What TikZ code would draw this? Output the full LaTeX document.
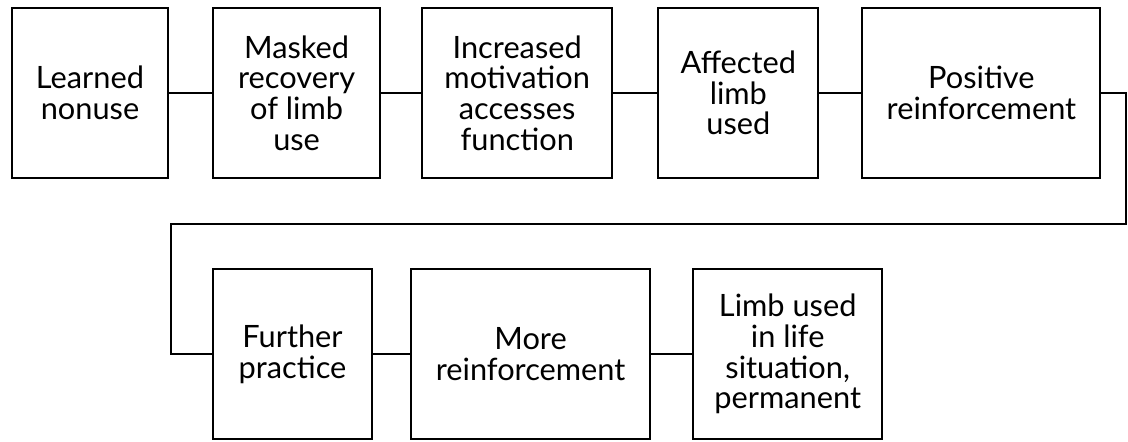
\documentclass[tikz,border=0pt]{standalone}
\usepackage{fontspec}
\setmainfont{Lato}
\usetikzlibrary{positioning}

\begin{document}
\begin{tikzpicture}[font=\fontsize{17.5}{17.5}\selectfont,line width=1.2pt,
  stage/.style={draw=black,minimum height=3.4cm,align=center,inner sep=0pt},
  link/.style={draw=black,line width=1.2pt}]
\useasboundingbox (0,0) rectangle (22.56,-8.84);
% --- first row ---
\node[stage,minimum width=3.12cm] (nonuse) at (1.8,-1.86) {Learned\\nonuse};
\node[stage,minimum width=3.34cm,right=0.86cm of nonuse] (masked) {Masked\\recovery\\of limb\\use};
\node[stage,minimum width=3.8cm,right=0.8cm of masked] (motiv) {Increased\\motivation\\accesses\\function};
\node[stage,minimum width=3.2cm,right=0.88cm of motiv] (affect) {Affected\\limb\\used};
\node[stage,minimum width=4.76cm,right=0.84cm of affect] (posrein) {Positive\\reinforcement};
% --- second row ---
\node[stage,minimum width=3.18cm] (practice) at (5.85,-7.08) {Further\\practice};
\node[stage,minimum width=4.78cm,right=0.74cm of practice] (morerein) {More\\reinforcement};
\node[stage,minimum width=3.78cm,right=0.82cm of morerein] (lifeuse) {Limb used\\in life\\situation,\\permanent};
% --- connectors ---
\coordinate (loopR) at (22.52,-4.48);
\coordinate (loopL) at (3.42,-4.48);
\draw[link] (nonuse) -- (masked);
\draw[link] (masked) -- (motiv);
\draw[link] (motiv) -- (affect);
\draw[link] (affect) -- (posrein);
\draw[link] (posrein.east) -| (loopR) -- (loopL) |- (practice.west);
\draw[link] (practice) -- (morerein);
\draw[link] (morerein) -- (lifeuse);
\end{tikzpicture}
\end{document}
